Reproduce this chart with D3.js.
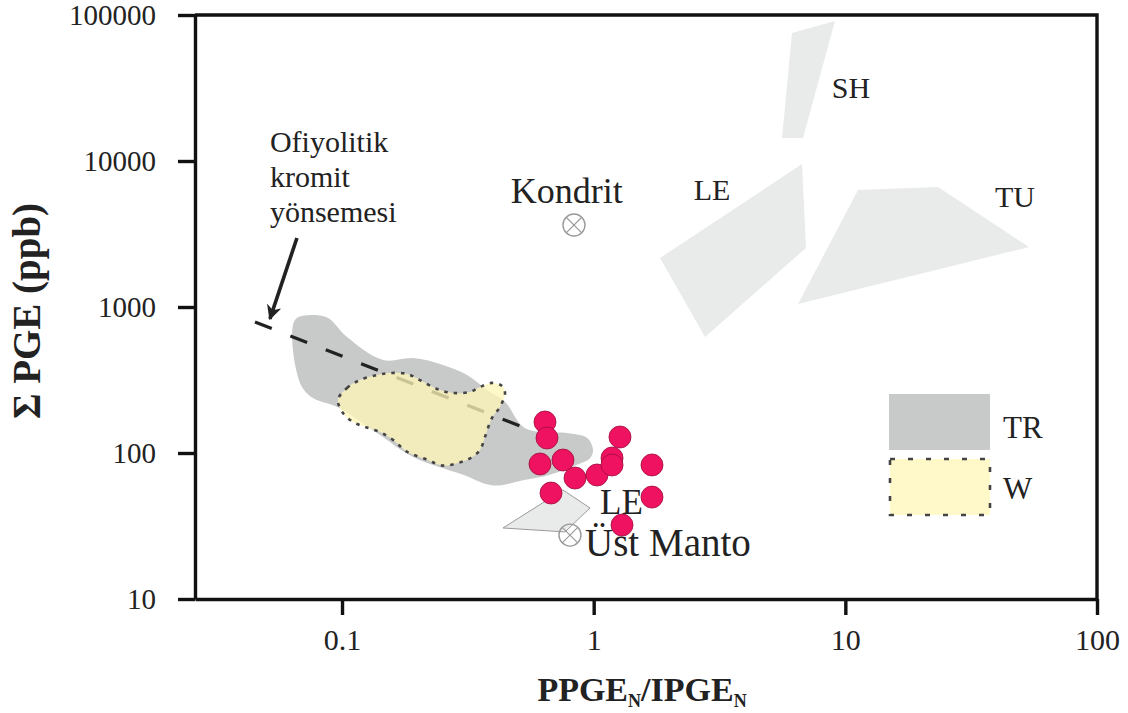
<!DOCTYPE html>
<html>
<head>
<meta charset="utf-8">
<script src="https://cdn.jsdelivr.net/npm/d3@7"></script>
<style>
  html, body { margin: 0; padding: 0; background: #fff; }
  svg { display: block; }
  text { font-family: "Liberation Serif", "DejaVu Serif", serif; fill: #222; }
</style>
</head>
<body>
<svg id="chart" width="1128" height="713"></svg>
<script>
// ---------- data ----------
const xTicks = [0.1, 1, 10, 100];
const xTickLabels = ["0.1", "1", "10", "100"];
const yTicks = [10, 100, 1000, 10000, 100000];
const yTickLabels = ["10", "100", "1000", "10000", "100000"];
const xDomain = [0.02605, 100];
const yDomain = [10, 100000];

// TR field (grey)
const trX = [0.0650,0.0767,0.0880,0.1047,0.1455,0.1915,0.2520,0.3139,0.3768,0.4443,0.5335,0.7834,0.9408,0.9938,0.9670,0.8585,0.6708,0.5239,0.3981,0.3026,0.1915,0.1377,0.0955,0.0767,0.0681];
const trY = [815,882,841,623,434,447,401,342,270,224,148,137,127,105,92,83,71,65,60,71,94,137,207,238,302];
// W field (yellow)
const wX = [0.0964,0.1047,0.1179,0.1377,0.1551,0.1813,0.2041,0.2385,0.2761,0.3226,0.3534,0.3945,0.4323,0.4443,0.4244,0.3945,0.3700,0.3534,0.3226,0.2863,0.2520,0.2176,0.1813,0.1594,0.1416,0.1234,0.1106,0.1009];
const wY = [231,279,316,342,353,348,316,274,258,262,283,302,288,258,207,174,129,105,92,85,82,90,102,123,139,151,163,188];
// reference fields (light grey)
const shX = [6.140, 9.097, 6.788, 5.602];
const shY = [75290, 90960, 14370, 14370];
const leUpX = [1.835, 6.726, 6.977, 2.770];
const leUpY = [2166, 9539, 2536, 623];
const tuX = [11.23, 23.34, 53.67, 6.485];
const tuY = [6329, 6634, 2576, 1048];
const leLowX = [0.4362, 0.7551, 0.9670, 0.7693];
const leLowY = [30.65, 55.8, 42.0, 28.8];
// ophiolitic chromite trend
const trendX = [0.0451, 0.5585];
const trendY = [789, 144];
const arrowX = [0.0662, 0.0517];
const arrowY = [2969, 830];
// samples
const sampleX = [0.6405,0.6524,0.6118,0.7551,0.8431,1.031,1.183,1.183,1.272,1.705,0.6768,1.705,1.296];
const sampleY = [163.1,126.7,84.1,89.5,67.4,70.7,92.4,82.8,128.7,82.8,53.2,49.9,32.1];
// reference compositions
const refNames = ["Kondrit", "Üst Manto"];
const refX = [0.835, 0.805];
const refY = [3642, 27.4];
// labels
const labelText = ["SH", "LE", "TU", "Kondrit", "LE", "Üst Manto"];
const labelX = [10.53, 2.953, 47.2, 0.782, 1.06, 0.924];
const labelY = [27010, 5405, 4840, 5155, 38.2, 19.7];
const labelAnchor = ["middle", "middle", "middle", "middle", "start", "start"];
const labelSize = [30, 30, 30, 36, 35, 39];
const noteLines = ["Ofiyolitik", "kromit", "yönsemesi"];
const noteX = 0.0517;
const noteY = [11520, 6634, 3821];
const legendNames = ["TR", "W"];

// ---------- layout ----------
const svg = d3.select("#chart");
const margin = {top: 15, right: 31, bottom: 114, left: 195};
const W = 1128, H = 713;
const x = d3.scaleLog().domain(xDomain).range([margin.left, W - margin.right]);
const y = d3.scaleLog().domain(yDomain).range([H - margin.bottom, margin.top]);

const poly = (xs, ys) => xs.map((v, i) => [x(v), y(ys[i])]);
const linePath = d3.line();
const smoothPath = d3.line().curve(d3.curveCatmullRomClosed.alpha(0.5));

const plot = svg.append("g");

// light grey literature fields
[[shX, shY], [leUpX, leUpY], [tuX, tuY]].forEach(([xs, ys]) => {
  plot.append("path").attr("d", linePath(poly(xs, ys)) + "Z")
    .attr("fill", "#e9eaea").attr("stroke", "none");
});
plot.append("path").attr("d", linePath(poly(leLowX, leLowY)) + "Z")
  .attr("fill", "#e9eaea").attr("stroke", "#9a9a9a").attr("stroke-width", 1);

// TR field
plot.append("path").attr("d", smoothPath(poly(trX, trY)))
  .attr("fill", "#c8c9c9");

// trend line
plot.append("path").attr("d", linePath(poly(trendX, trendY)))
  .attr("fill", "none").attr("stroke", "#222").attr("stroke-width", 3.2)
  .attr("stroke-dasharray", "18 20");

// W field (semi-transparent yellow over trend)
plot.append("path").attr("d", smoothPath(poly(wX, wY)))
  .attr("fill", "#fff6b7").attr("fill-opacity", 0.76)
  .attr("stroke", "#444").attr("stroke-width", 2.6)
  .attr("stroke-dasharray", "3.5 6").attr("stroke-linecap", "butt");

// arrow
const defs = svg.append("defs");
defs.append("marker").attr("id", "ah").attr("viewBox", "0 0 10 10")
  .attr("refX", 9).attr("refY", 5).attr("markerWidth", 4.2).attr("markerHeight", 4.2)
  .attr("orient", "auto").attr("markerUnits", "strokeWidth")
  .append("path").attr("d", "M0,0 L10,5 L0,10 L3,5 Z").attr("fill", "#222");
plot.append("path").attr("d", linePath(poly(arrowX, arrowY)))
  .attr("stroke", "#222").attr("stroke-width", 3.6).attr("fill", "none")
  .attr("marker-end", "url(#ah)");

// reference composition symbols (circle with cross)
refX.forEach((v, i) => {
  const cx = x(v), cy = y(refY[i]), r = 11;
  const g = plot.append("g").attr("transform", `translate(${cx},${cy})`);
  g.append("circle").attr("r", r).attr("fill", "none").attr("stroke", "#9a9a9a").attr("stroke-width", 1.4);
  const d = r * Math.SQRT1_2;
  g.append("path").attr("d", `M${-d},${-d}L${d},${d}M${-d},${d}L${d},${-d}`)
    .attr("stroke", "#9a9a9a").attr("stroke-width", 1.2);
});

// samples
plot.selectAll("circle.s").data(sampleX).join("circle").attr("class", "s")
  .attr("cx", d => x(d)).attr("cy", (d, i) => y(sampleY[i])).attr("r", 11)
  .attr("fill", "#ee1260").attr("stroke", "#9e0c3c").attr("stroke-width", 0.8);

// labels
labelText.forEach((t, i) => {
  plot.append("text").attr("x", x(labelX[i])).attr("y", y(labelY[i]))
    .attr("text-anchor", labelAnchor[i]).attr("font-size", labelSize[i]).text(t);
});
noteLines.forEach((t, i) => {
  plot.append("text").attr("x", x(noteX)).attr("y", y(noteY[i]))
    .attr("font-size", 30).text(t);
});

// ---------- axes ----------
const axisW = 3.4;
const yAxis = d3.axisLeft(y).tickValues(yTicks).tickFormat((d, i) => yTickLabels[i])
  .tickSize(17).tickSizeOuter(0).tickPadding(22);
const gy = svg.append("g").attr("transform", `translate(${margin.left},0)`).call(yAxis);
gy.selectAll("text").attr("font-size", 29).attr("fill", "#222").attr("font-family", "Liberation Serif");

const xAxis = d3.axisBottom(x).tickValues(xTicks).tickFormat((d, i) => xTickLabels[i])
  .tickSize(16).tickSizeOuter(0).tickPadding(14);
const gx = svg.append("g").attr("transform", `translate(0,${H - margin.bottom})`).call(xAxis);
gx.selectAll("text").attr("font-size", 30).attr("fill", "#222").attr("font-family", "Liberation Serif");

[gx, gy].forEach(g => {
  g.selectAll("path.domain").attr("stroke", "#111").attr("stroke-width", axisW);
  g.selectAll(".tick line").attr("stroke", "#111").attr("stroke-width", axisW);
});
// top and right frame
svg.append("path")
  .attr("d", `M${margin.left},${margin.top}H${W - margin.right}V${H - margin.bottom}`)
  .attr("fill", "none").attr("stroke", "#111").attr("stroke-width", axisW);

// axis titles
svg.append("text").attr("transform", `translate(40,${(margin.top + H - margin.bottom) / 2 + 4}) rotate(-90)`)
  .attr("text-anchor", "middle").attr("font-size", 39).attr("font-weight", "bold")
  .text("Σ PGE (ppb)");
const xt = svg.append("text").attr("x", (margin.left + W - margin.right) / 2 - 4).attr("y", 701)
  .attr("text-anchor", "middle").attr("font-size", 34).attr("font-weight", "bold");
xt.append("tspan").text("PPGE");
xt.append("tspan").attr("font-size", 18).attr("dy", 6).text("N");
xt.append("tspan").attr("dy", -6).text("/IPGE");
xt.append("tspan").attr("font-size", 18).attr("dy", 6).text("N");

// ---------- legend ----------
const lg = svg.append("g").attr("transform", "translate(889,394)");
lg.append("rect").attr("x", 0).attr("y", 0).attr("width", 101).attr("height", 56)
  .attr("fill", "#c8c9c9");
lg.append("rect").attr("x", 1).attr("y", 65).attr("width", 100).attr("height", 56)
  .attr("fill", "#fff8c8").attr("stroke", "#444").attr("stroke-width", 2.6)
  .attr("stroke-dasharray", "5 13");
legendNames.forEach((n, i) => {
  lg.append("text").attr("x", 114).attr("y", 44 + i * 61).attr("font-size", 31).text(n);
});
</script>
</body>
</html>
